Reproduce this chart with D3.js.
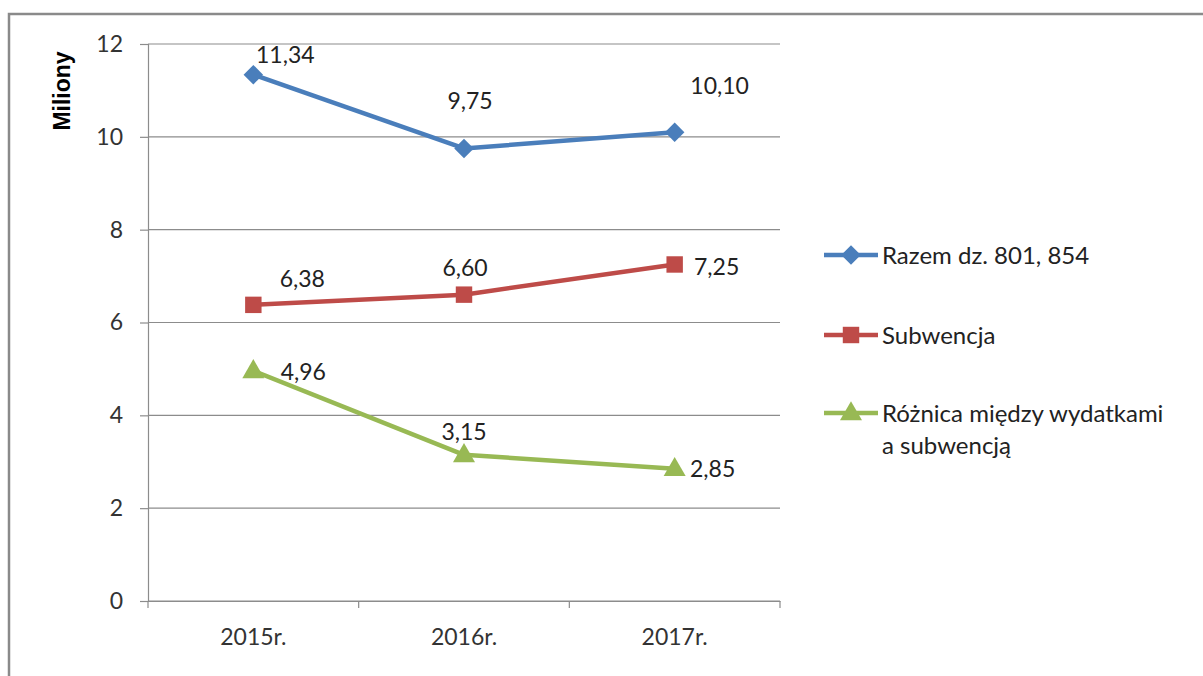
<!DOCTYPE html>
<html>
<head>
<meta charset="utf-8">
<script src="https://cdn.jsdelivr.net/npm/d3@7"></script>
<style>
  body { margin: 0; background: #fff; }
  svg { display: block; font-family: Lato, sans-serif; }
</style>
</head>
<body>
<div id="chart"></div>
<script>
// data
const years = ["2015r.", "2016r.", "2017r."];
const razem = [11.34, 9.75, 10.10];
const subwencja = [6.38, 6.60, 7.25];
const roznica = [4.96, 3.15, 2.85];
const yTicks = [0, 2, 4, 6, 8, 10, 12];
const seriesNames = ["Razem dz. 801, 854", "Subwencja", "Różnica między wydatkami|a subwencją"];

const width = 1203, height = 676;
const margin = { left: 148, right: 423, top: 44, bottom: 75 };
const font = "Lato, sans-serif";

const svg = d3.select("#chart").append("svg")
  .attr("width", width)
  .attr("height", height);

// outer frame
svg.append("rect")
  .attr("x", 9).attr("y", 14)
  .attr("width", width + 20).attr("height", height + 20)
  .attr("fill", "none")
  .attr("stroke", "#8a8a8a")
  .attr("stroke-width", 2.5);

const x = d3.scaleBand()
  .domain(years)
  .range([margin.left, width - margin.right]);

const y = d3.scaleLinear()
  .domain([0, 12])
  .range([height - margin.bottom, margin.top]);

// gridlines
svg.append("g")
  .selectAll("line")
  .data(yTicks)
  .enter()
  .append("line")
  .attr("x1", margin.left)
  .attr("x2", width - margin.right)
  .attr("y1", d => y(d))
  .attr("y2", d => y(d))
  .attr("stroke", "#8c8c8c")
  .attr("stroke-width", 1.2);

// y axis
const yAxis = svg.append("g")
  .attr("transform", `translate(${margin.left},0)`)
  .call(d3.axisLeft(y).tickValues(yTicks).tickSize(8).tickPadding(17).tickFormat(d3.format("d")));
yAxis.selectAll("line").attr("stroke", "#8c8c8c").attr("stroke-width", 1.2);
yAxis.select(".domain").attr("stroke", "#8c8c8c").attr("stroke-width", 1.2);
yAxis.selectAll("text").attr("font-size", 23).attr("fill", "#333").attr("font-family", font);

// x axis
const xAxis = svg.append("g")
  .attr("transform", `translate(0,${y(0)})`)
  .call(d3.axisBottom(x).tickSize(0).tickPadding(28));
xAxis.select(".domain").attr("stroke", "#8c8c8c").attr("stroke-width", 1.2);
xAxis.selectAll("text").attr("font-size", 23).attr("fill", "#333").attr("font-family", font);

// category boundary ticks
const bounds = years.map(d => x(d)).concat([x(years[years.length - 1]) + x.bandwidth()]);
svg.append("g")
  .selectAll("line")
  .data(bounds)
  .enter()
  .append("line")
  .attr("x1", d => d).attr("x2", d => d)
  .attr("y1", y(0)).attr("y2", y(0) + 7)
  .attr("stroke", "#8c8c8c")
  .attr("stroke-width", 1.2);

// y axis title
svg.append("text")
  .attr("transform", `translate(70,91) rotate(-90)`)
  .attr("text-anchor", "middle")
  .attr("font-size", 23)
  .attr("font-weight", "bold")
  .attr("font-family", "'Liberation Sans', Arial, sans-serif")
  .attr("fill", "#000")
  .text("Miliony");

const cx = i => x(years[i]) + x.bandwidth() / 2;

const series = [
  { values: razem, color: "#4a7ebb", symbol: d3.symbolSquare, size: 190, rotate: 45,
    offsets: [[32, -20], [6, -48], [45, -46]] },
  { values: subwencja, color: "#be4b48", symbol: d3.symbolSquare, size: 270, rotate: 0,
    offsets: [[49, -26], [1, -27], [42, 2]] },
  { values: roznica, color: "#98b954", symbol: d3.symbolTriangle, size: 210, rotate: 0,
    offsets: [[50, 1], [0, -23], [38, 0]] },
];

const line = d3.line()
  .x((d, i) => cx(i))
  .y(d => y(d));

const fmt = v => v.toFixed(2).replace(".", ",");

series.forEach(s => {
  svg.append("path")
    .datum(s.values)
    .attr("d", line)
    .attr("fill", "none")
    .attr("stroke", s.color)
    .attr("stroke-width", 4.5)
    .attr("stroke-linejoin", "round");

  svg.append("g")
    .selectAll("path")
    .data(s.values)
    .enter()
    .append("path")
    .attr("d", d3.symbol().type(s.symbol).size(s.size))
    .attr("transform", (d, i) => `translate(${cx(i)},${y(d) + (s.symbol === d3.symbolTriangle ? 1 : 0)}) rotate(${s.rotate})`)
    .attr("fill", s.color);

  svg.append("g")
    .selectAll("text")
    .data(s.values)
    .enter()
    .append("text")
    .attr("x", (d, i) => cx(i) + s.offsets[i][0])
    .attr("y", (d, i) => y(d) + s.offsets[i][1])
    .attr("dy", "0.36em")
    .attr("text-anchor", "middle")
    .attr("font-size", 23)
    .attr("fill", "#222")
    .text(d => fmt(d));
});

// legend
const legendRows = [255, 335, 413];
series.forEach((s, i) => {
  const g = svg.append("g").attr("transform", `translate(824,${legendRows[i]})`);
  g.append("line")
    .attr("x1", 0).attr("x2", 54)
    .attr("y1", 0).attr("y2", 0)
    .attr("stroke", s.color)
    .attr("stroke-width", 4.5);
  g.append("path")
    .attr("d", d3.symbol().type(s.symbol).size(s.size))
    .attr("transform", `translate(27,${s.symbol === d3.symbolTriangle ? 1 : 0}) rotate(${s.rotate})`)
    .attr("fill", s.color);
  const lines = seriesNames[i].split("|");
  const t = g.append("text")
    .attr("x", 58)
    .attr("y", 0)
    .attr("font-size", 24)
    .attr("fill", "#222");
  lines.forEach((l, j) => {
    t.append("tspan").attr("x", 58).attr("dy", j === 0 ? "0.36em" : "1.35em").text(l);
  });
});
</script>
</body>
</html>
